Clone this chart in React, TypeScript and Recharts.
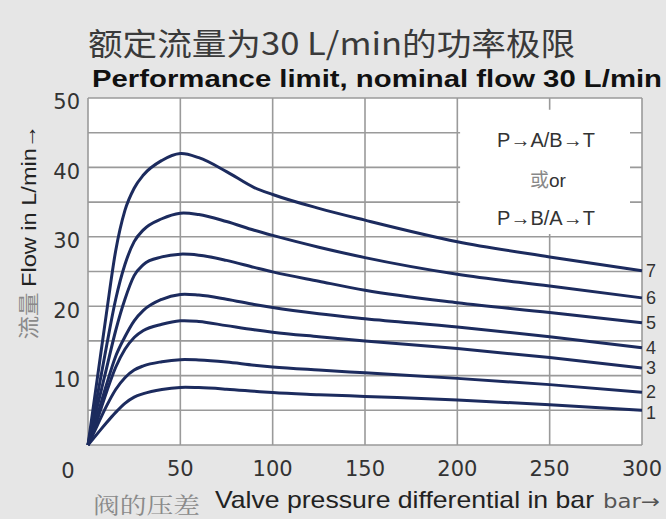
import React from 'react';
import { LineChart, Line, XAxis, YAxis, CartesianGrid, ReferenceArea } from 'recharts';

const pressure = [0, 5, 10, 15, 20, 25, 30, 40, 50, 60, 75, 90, 100, 125, 150, 200, 250, 300];
const curve1 = [0, 1.6, 3.2, 4.7, 6.0, 6.9, 7.4, 8.0, 8.3, 8.27, 8.05, 7.75, 7.55, 7.25, 7.0, 6.5, 5.8, 5.0];
const curve2 = [0, 2.8, 5.6, 8.0, 9.7, 10.8, 11.4, 12.0, 12.3, 12.25, 11.95, 11.5, 11.25, 10.8, 10.4, 9.6, 8.7, 7.6];
const curve3 = [0, 3.6, 7.6, 11.2, 13.8, 15.5, 16.5, 17.4, 17.9, 17.8, 17.2, 16.6, 16.25, 15.6, 15.0, 13.9, 12.6, 11.1];
const curve4 = [0, 4.2, 8.7, 12.8, 15.6, 17.9, 19.4, 21.0, 21.7, 21.6, 21.0, 20.25, 19.8, 18.9, 18.2, 17.0, 15.6, 14.0];
const curve5 = [0, 5.5, 11.0, 16.5, 21.0, 24.4, 26.0, 27.1, 27.5, 27.35, 26.6, 25.6, 24.95, 23.6, 22.3, 20.5, 19.1, 17.6];
const curve6 = [0, 7.0, 14.2, 21.0, 26.0, 29.3, 31.0, 32.6, 33.4, 33.2, 32.2, 30.95, 30.2, 28.5, 27.0, 24.6, 22.9, 21.2];
const curve7 = [0, 9.5, 19.0, 28.0, 33.8, 37.0, 38.9, 41.0, 42.0, 41.4, 39.4, 37.1, 36.1, 34.1, 32.4, 29.3, 27.1, 25.1];
const curveNames = ['1', '2', '3', '4', '5', '6', '7'];
const xTicks = [0, 50, 100, 150, 200, 250, 300];
const yTicks = [0, 5, 10, 15, 20, 25, 30, 35, 40, 45, 50];

const series = [curve1, curve2, curve3, curve4, curve5, curve6, curve7];
const data = pressure.map((p, i) => {
  const row: Record<string, number> = { p };
  series.forEach((s, k) => {
    row['c' + (k + 1)] = s[i];
  });
  return row;
});

// Smooth Hermite curve (parabolic tangents, no monotone limiter)
const smoothCurve = (context: any) => {
  let xs: number[] = [];
  let ys: number[] = [];
  return {
    areaStart() {},
    areaEnd() {},
    lineStart() {
      xs = [];
      ys = [];
    },
    point(x: number, y: number) {
      xs.push(+x);
      ys.push(+y);
    },
    lineEnd() {
      const n = xs.length;
      if (n === 0) return;
      context.moveTo(xs[0], ys[0]);
      if (n === 1) return;
      if (n === 2) {
        context.lineTo(xs[1], ys[1]);
        return;
      }
      const h: number[] = [];
      const s: number[] = [];
      for (let i = 0; i < n - 1; i++) {
        h.push(xs[i + 1] - xs[i]);
        s.push((ys[i + 1] - ys[i]) / (xs[i + 1] - xs[i]));
      }
      const m: number[] = new Array(n).fill(0);
      for (let i = 1; i < n - 1; i++) {
        m[i] = (s[i - 1] * h[i] + s[i] * h[i - 1]) / (h[i - 1] + h[i]);
      }
      m[0] = (3 * s[0] - m[1]) / 2;
      m[n - 1] = (3 * s[n - 2] - m[n - 2]) / 2;
      for (let i = 0; i < n - 1; i++) {
        const d = h[i] / 3;
        context.bezierCurveTo(xs[i] + d, ys[i] + m[i] * d, xs[i + 1] - d, ys[i + 1] - m[i + 1] * d, xs[i + 1], ys[i + 1]);
      }
    },
  };
};

const tickFont = { fontFamily: 'DejaVu Sans', fontSize: 21, fill: '#333' };
const LINE = '#1c2b5e';
const last = pressure.length - 1;

const endLabel = (name: string, shift: number) => (props: any) => {
  if (props.index !== last) return <g />;
  return (
    <text x={props.x + 4} y={props.y + shift} dy={6} fontFamily="Liberation Sans" fontSize={18} fill="#333" textAnchor="start">
      {name}
    </text>
  );
};

export default function App() {
  return (
    <div style={{ position: 'absolute', left: 0, top: 0, width: 666, height: 519, background: '#e6e6e6', overflow: 'hidden' }}>
      <LineChart width={666} height={519} data={data} margin={{ top: 98, right: 24, bottom: 44, left: 28 }}>
        <CartesianGrid stroke="#9a9a9a" strokeWidth={1.6} fill="#ffffff" fillOpacity={1} horizontalValues={yTicks} verticalValues={xTicks} />
        <XAxis
          dataKey="p"
          type="number"
          domain={[0, 300]}
          ticks={xTicks}
          height={30}
          axisLine={false}
          tickLine={false}
          tickMargin={10}
          interval={0}
          tick={tickFont}
          tickFormatter={(v: number) => (v === 0 ? '' : String(v))}
        />
        <YAxis
          type="number"
          domain={[0, 50]}
          ticks={yTicks}
          width={60}
          axisLine={false}
          tickLine={false}
          interval={0}
          tick={{ ...tickFont, dy: 4 }}
          tickFormatter={(v: number) => (v !== 0 && v % 10 === 0 ? String(v) : '')}
        />
        <ReferenceArea x1={201.5} x2={293.5} y1={30.4} y2={48.3} fill="#ffffff" fillOpacity={1} stroke="none" />
        {curveNames.map((n, k) => (
          <Line
            key={n}
            dataKey={'c' + (k + 1)}
            type={smoothCurve as any}
            stroke={LINE}
            strokeWidth={3}
            dot={false}
            isAnimationActive={false}
            label={endLabel(n, k === 0 ? 3 : 0)}
          />
        ))}
      </LineChart>
      <svg width={666} height={519} style={{ position: 'absolute', left: 0, top: 0, pointerEvents: 'none' }}>
        <text x={88} y={55} fontFamily="Noto Sans CJK SC" fontSize={31} fill="#3a3a3a" textLength={487} lengthAdjust="spacingAndGlyphs">
          额定流量为30 L/min的功率极限
        </text>
        <text x={92} y={87} fontFamily="Liberation Sans" fontWeight="bold" fontSize={24} fill="#111" textLength={570} lengthAdjust="spacingAndGlyphs">
          Performance limit, nominal flow 30 L/min
        </text>
        <g transform="translate(36,232) rotate(-90)">
          <text x={0} y={0} textAnchor="middle" fontFamily="Liberation Sans" fontSize={21} fill="#222" textLength={215} lengthAdjust="spacingAndGlyphs">
            <tspan fill="#8a8a8a" fontFamily="Noto Sans CJK SC">流量 </tspan>
            <tspan>Flow in L/min→</tspan>
          </text>
        </g>
        <text x={68} y={478} textAnchor="middle" fontFamily="DejaVu Sans" fontSize={21} fill="#333">0</text>
        <text x={93} y={513} fontFamily="Noto Serif CJK SC, Noto Sans CJK SC" fontSize={22} fill="#8a8a8a" textLength={107} lengthAdjust="spacingAndGlyphs">
          阀的压差
        </text>
        <text x={215} y={508} fontFamily="Liberation Sans" fontSize={24} fill="#222" textLength={379} lengthAdjust="spacingAndGlyphs">
          Valve pressure differential in bar
        </text>
        <text x={603} y={508} fontFamily="DejaVu Sans" fontSize={19} fill="#555" textLength={57} lengthAdjust="spacingAndGlyphs">
          bar→
        </text>
        <text x={546} y={147} textAnchor="middle" fontFamily="Liberation Sans" fontSize={20} fill="#333">P→A/B→T</text>
        <text x={548} y={187} textAnchor="middle" fontFamily="Liberation Sans" fontSize={19} fill="#333">
          <tspan fill="#888" fontFamily="Noto Sans CJK SC">或</tspan>or
        </text>
        <text x={546} y={225} textAnchor="middle" fontFamily="Liberation Sans" fontSize={20} fill="#333">P→B/A→T</text>
      </svg>
    </div>
  );
}
